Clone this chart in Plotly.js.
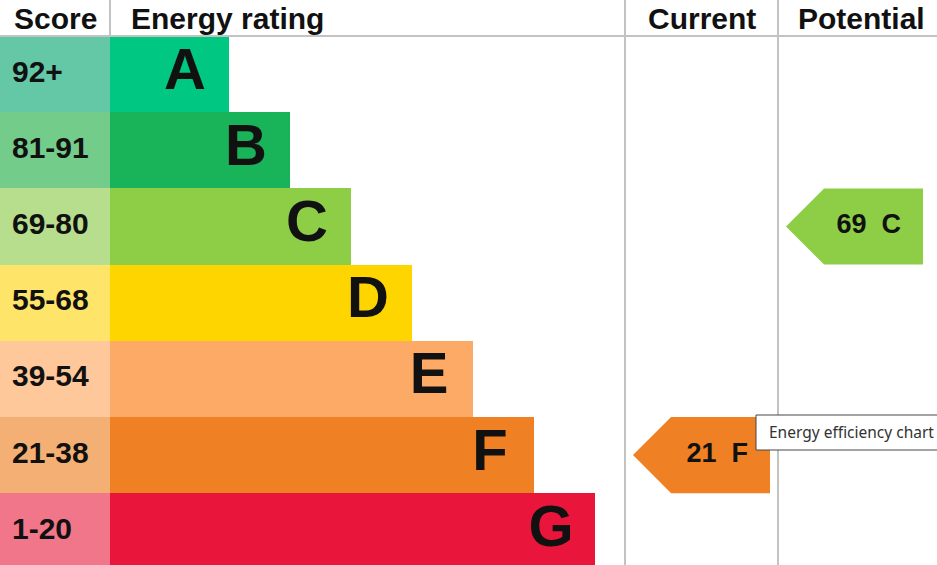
<!DOCTYPE html>
<html>
<head>
<meta charset="utf-8">
<script src="https://cdn.plot.ly/plotly-3.0.1.min.js"></script>
<style>
  html, body { margin: 0; padding: 0; background: #fff; overflow: hidden; }
  #plot { width: 937px; height: 565px; }
</style>
</head>
<body>
<div id="plot"></div>
<script>
// EPC rating bands, top (best) to bottom (worst)
const bands = ['A', 'B', 'C', 'D', 'E', 'F', 'G'];
const scoreRanges = ['92+', '81-91', '69-80', '55-68', '39-54', '21-38', '1-20'];
const bandMin = [92, 81, 69, 55, 39, 21, 1];
const barEnds = [229, 290, 351, 412, 473, 534, 595];
const bandColors = ['#00c781', '#19b459', '#8dce46', '#ffd500', '#fcaa65', '#ef8023', '#e9153b'];
const scoreColors = ['#64c7a5', '#74cc8b', '#b7de8d', '#ffe46a', '#fec89b', '#f4b074', '#f27689'];
const currentScore = 21;
const potentialScore = 69;

// layout constants (x axis is in page pixels, y axis in rows)
const W = 937, H = 565;
const headerH = 36, rowH = 76.2;
const scoreColW = 110;
const currentCol = [625, 778];
const potentialCol = [778, 931];
const font = 'Liberation Sans, Arial, sans-serif';

const rows = bands.map((b, i) => i);
const pxToRow = p => (p - headerH) / rowH - 0.5;
const pxToPaper = p => 1 - p / H;

function bandIndex(score) {
    for (let i = 0; i < bandMin.length; i++) {
        if (score >= bandMin[i]) return i;
    }
    return bandMin.length - 1;
}

function arrowTrace(score, col) {
    const i = bandIndex(score);
    const left = col[0] + 8, right = col[1] - 8;
    const nose = rowH / 2;
    return {
        x: [left, left + nose, right, right, left + nose, left],
        y: [i, i - 0.5, i - 0.5, i + 0.5, i + 0.5, i],
        type: 'scatter', mode: 'lines', fill: 'toself',
        fillcolor: bandColors[i], line: {width: 0, color: bandColors[i]},
        hoverinfo: 'skip'
    };
}

function arrowLabel(score, col) {
    const i = bandIndex(score);
    return {
        x: [col[1] - 8 - 22], y: [i],
        text: [score + '\u00a0\u00a0' + bands[i]],
        type: 'scatter', mode: 'text', textposition: 'middle left',
        textfont: {family: font, size: 27, weight: 700, color: '#111'},
        hoverinfo: 'skip'
    };
}

const scoreBars = {
    type: 'bar', orientation: 'h',
    y: rows, x: rows.map(() => scoreColW), base: 0, width: 1,
    marker: {color: scoreColors, line: {width: 0}},
    hoverinfo: 'skip'
};

const ratingBars = {
    type: 'bar', orientation: 'h',
    y: rows, x: barEnds.map(e => e - scoreColW), base: scoreColW, width: 1,
    marker: {color: bandColors, line: {width: 0}},
    hoverinfo: 'skip'
};

const scoreText = {
    type: 'scatter', mode: 'text',
    x: rows.map(() => 12), y: rows, text: scoreRanges,
    textposition: 'middle right',
    textfont: {family: font, size: 30, weight: 700, color: '#111'},
    hoverinfo: 'skip'
};

const letterText = {
    type: 'scatter', mode: 'text',
    x: barEnds.map(e => e - 44), y: rows, text: bands,
    textposition: 'middle center',
    textfont: {family: font, size: 58, weight: 700, color: '#111'},
    hoverinfo: 'skip'
};

const data = [
    scoreBars, ratingBars, scoreText, letterText,
    arrowTrace(currentScore, currentCol), arrowLabel(currentScore, currentCol),
    arrowTrace(potentialScore, potentialCol), arrowLabel(potentialScore, potentialCol)
];

const gridLine = {color: '#c3c3c3', width: 2};
const headFont = {family: font, size: 30, weight: 700, color: '#111'};
const headY = pxToPaper(19);

const layout = {
    width: W, height: H,
    margin: {l: 0, r: 0, t: 0, b: 0},
    paper_bgcolor: '#fff', plot_bgcolor: '#fff',
    showlegend: false, hovermode: false,
    barmode: 'overlay', bargap: 0,
    xaxis: {range: [0, W], visible: false, fixedrange: true},
    yaxis: {range: [pxToRow(H), pxToRow(0)], visible: false, fixedrange: true},
    shapes: [
        {type: 'line', xref: 'x', yref: 'paper', x0: 0, x1: W, y0: pxToPaper(headerH), y1: pxToPaper(headerH), line: gridLine, layer: 'above'},
        {type: 'line', xref: 'x', yref: 'paper', x0: scoreColW, x1: scoreColW, y0: 1, y1: pxToPaper(headerH), line: gridLine, layer: 'above'},
        {type: 'line', xref: 'x', yref: 'paper', x0: currentCol[0], x1: currentCol[0], y0: 0, y1: 1, line: gridLine, layer: 'above'},
        {type: 'line', xref: 'x', yref: 'paper', x0: potentialCol[0], x1: potentialCol[0], y0: 0, y1: 1, line: gridLine, layer: 'above'},
        // browser tooltip box
        {type: 'rect', xref: 'x', yref: 'paper', x0: 756, x1: W + 20, y0: pxToPaper(415), y1: pxToPaper(450),
         fillcolor: '#fff', line: {color: '#474747', width: 1}, layer: 'above'}
    ],
    annotations: [
        {text: 'Score', x: 12, xref: 'x', xanchor: 'left', y: headY, yref: 'paper', yanchor: 'middle', showarrow: false, font: headFont},
        {text: 'Energy rating', x: 129, xref: 'x', xanchor: 'left', y: headY, yref: 'paper', yanchor: 'middle', showarrow: false, font: headFont},
        {text: 'Current', x: 702, xref: 'x', xanchor: 'center', y: headY, yref: 'paper', yanchor: 'middle', showarrow: false, font: headFont},
        {text: 'Potential', x: 861, xref: 'x', xanchor: 'center', y: headY, yref: 'paper', yanchor: 'middle', showarrow: false, font: headFont},
        {text: 'Energy efficiency chart', x: 767, xref: 'x', xanchor: 'left', y: pxToPaper(432), yref: 'paper', yanchor: 'middle',
         showarrow: false, font: {family: 'Segoe UI, Noto Sans, Open Sans, sans-serif', size: 15.5, color: '#333'}}
    ]
};

Plotly.newPlot('plot', data, layout, {displayModeBar: false, staticPlot: true});
</script>
</body>
</html>
